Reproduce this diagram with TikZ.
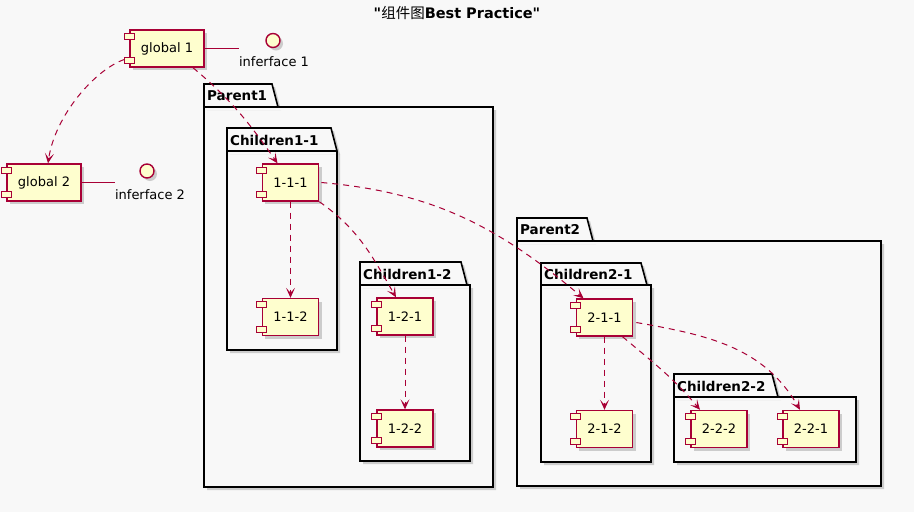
\documentclass[tikz,border=0pt]{standalone}
\usepackage{fontspec}
\setmainfont{DejaVu Sans}[Ligatures=TeXOff]
\newfontfamily\cjk{Noto Sans CJK SC}
\usetikzlibrary{arrows.meta,shadows}
\definecolor{umlred}{HTML}{A80036}
\definecolor{umlyellow}{HTML}{FEFECE}
\definecolor{umlbg}{HTML}{F8F8F8}

% the two small pins on the left side of a component
\newcommand{\pins}[1]{%
  \draw[pin] ([yshift=-7pt]#1.north west) ++(-5pt,-3pt) rectangle ++(10pt,6pt);
  \draw[pin] ([yshift=7pt]#1.south west) ++(-5pt,-3pt) rectangle ++(10pt,6pt);}
% package: name, left, top, tab end, tab bottom, right, bottom, label
\newcommand{\pkg}[8]{%
  \filldraw[pkgshape] (#2,#3) -- (#4-6,#3) -- (#4,#5) -- (#6,#5) -- (#6,#7) -- (#2,#7) -- cycle;
  \draw[pkgshape] (#2,#5) -- (#4,#5);
  \node[pkglabel] (#1) at (#2+1,{(#3+#5)/2+0.5}) {#8};}

\begin{document}
\begin{tikzpicture}[x=1pt,y=-1pt,
    umlshadow/.style={drop shadow={shadow xshift=3pt,shadow yshift=-3pt,opacity=.25,fill=black!70}},
    comp/.style={draw=umlred,fill=umlyellow,line width=1.4pt,minimum height=37pt,inner xsep=11pt,
      font=\fontsize{13}{15}\selectfont,umlshadow},
    pin/.style={draw=umlred,fill=umlyellow,line width=1.2pt},
    iface/.style={circle,draw=umlred,fill=umlyellow,line width=1.4pt,minimum size=14pt,inner sep=0pt,umlshadow},
    ifacetext/.style={inner sep=0pt,font=\fontsize{13}{15}\selectfont},
    link/.style={draw=umlred,line width=1.2pt},
    dep/.style={draw=umlred,line width=1pt,dash pattern=on 6pt off 5pt,
      -{Stealth[length=10pt,width=9pt,inset=5pt]}},
    pkgshape/.style={draw=black,fill=umlbg,line width=1.6pt,line join=miter,umlshadow},
    pkglabel/.style={anchor=west,inner sep=2pt,font=\fontsize{13.5}{15}\selectfont\bfseries}]
  \useasboundingbox (0,0) rectangle (914,512);
  \fill[umlbg] (0,0) rectangle (914,512);

  \node[font=\fontsize{14.5}{16}\selectfont] (title) at (457,13)
    {{\bfseries"}{\cjk 组件图}{\bfseries Best Practice"}};

  \pkg{parent1}{204}{84}{278}{107}{493}{487}{Parent1}
  \pkg{child11}{227}{128}{337}{151}{337}{350}{Children1-1}
  \pkg{child12}{360}{262}{467}{285}{470}{461}{Children1-2}
  \pkg{parent2}{517}{218}{593}{241}{881}{486}{Parent2}
  \pkg{child21}{541}{263}{647}{285}{651}{462}{Children2-1}
  \pkg{child22}{674}{374}{778}{397}{856}{462}{Children2-2}

  \node[comp] (g1) at (167,48.5) {global 1};
  \node[comp] (g2) at (44,182.5) {global 2};
  \node[comp] (c111) at (290.5,182.5) {1-1-1};
  \node[comp] (c112) at (290.5,317) {1-1-2};
  \node[comp] (c121) at (405,316.5) {1-2-1};
  \node[comp] (c122) at (405,428.5) {1-2-2};
  \node[comp] (c211) at (604.5,317.5) {2-1-1};
  \node[comp] (c212) at (604.5,429) {2-1-2};
  \node[comp] (c222) at (719,429) {2-2-2};
  \node[comp] (c221) at (811,429) {2-2-1};
  \foreach \c in {g1,g2,c111,c112,c121,c122,c211,c212,c222,c221} {\pins{\c}}

  \node[iface] (i1) at (273,40.5) {};
  \node[ifacetext] (i1txt) at (274,62) {inferface 1};
  \node[iface] (i2) at (147,171) {};
  \node[ifacetext] (i2txt) at (150,195) {inferface 2};
  \draw[link] (g1.east) -- (g1.east -| i1txt.west);
  \draw[link] (g2.east) -- (g2.east -| i2txt.west);

  \draw[dep] ([xshift=-5pt,yshift=-11pt]g1.west) .. controls +(-29,10) and +(7,-48) .. ([xshift=4pt]g2.north);
  \draw[dep] ([xshift=26pt]g1.south) to[out=-40,in=125] ([xshift=-13pt]c111.north);
  \draw[dep] (c111) -- (c112);
  \draw[dep] (c111.south east) to[out=-35,in=120] ([xshift=-9pt]c121.north);
  \draw[dep] ([xshift=2pt]c111.east) to[out=-5,in=140] ([xshift=-21pt]c211.north);
  \draw[dep] (c121) -- (c122);
  \draw[dep] (c211) -- (c212);
  \draw[dep] ([xshift=18pt]c211.south) to[out=-40,in=130] ([xshift=-19pt]c222.north);
  \draw[dep] ([xshift=3pt,yshift=-5pt]c211.east) to[out=-10,in=120] ([xshift=-11pt]c221.north);
\end{tikzpicture}
\end{document}
